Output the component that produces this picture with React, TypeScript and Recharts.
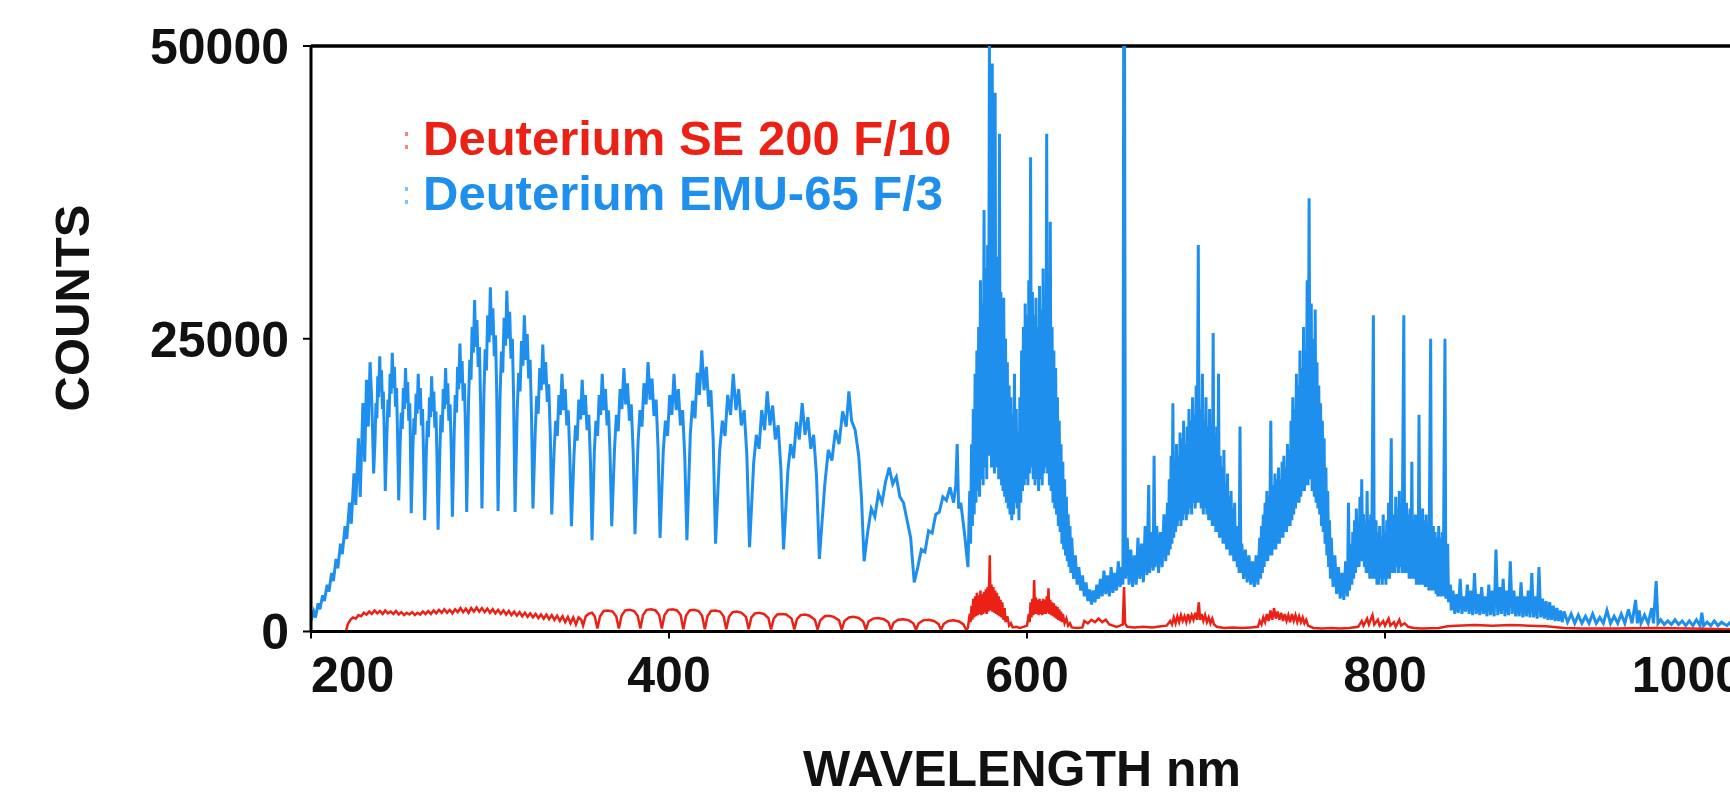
import React from 'react';
import { LineChart, Line, XAxis, YAxis, ReferenceLine, Legend } from 'recharts';

const FONT = '"Liberation Sans", Arial, Helvetica, sans-serif';

const xTicks = [200, 400, 600, 800, 1000];
const yTicks = [0, 25000, 50000];
const seriesNames = ['Deuterium SE 200 F/10', 'Deuterium EMU-65 F/3'];
const seriesColors = ['#EC2116', '#1E8FEC'];
const xTitle = 'WAVELENGTH nm';
const yTitle = 'COUNTS';

// [wavelength nm, counts] — Deuterium EMU-65 F/3 (blue)
const blueSpectrum: [number, number][] = [
  [200, 900], [201.5, 1700], [202.5, 1200], [204, 2400], [205, 1900], [206.5, 3100], [207.5, 2600], [209, 4000], [210, 3400],
  [211.5, 5000], [212.5, 4300], [214, 6200], [215, 5400], [216.5, 7500], [217.5, 6600], [219, 9000], [220, 7900],
  [221.5, 11000], [222.5, 9200], [224, 13500], [225, 10800], [226.5, 16500], [227.5, 11500], [229, 19500], [230, 14500],
  [231, 21500], [232, 17500], [233, 23000], [234, 19500], [235, 13500],
  [235.8, 16500], [236.3, 19500], [236.8, 18200], [237.3, 21800], [237.8, 20000], [238.4, 23500], [238.9, 20500], [239.4, 22300], [239.9, 19000], [240.4, 20500], [241, 16500], [241.5, 12000],
  [242.4, 16800], [243, 19800], [243.6, 18300], [244.2, 22000], [244.8, 20300], [245.4, 23800], [246, 20800], [246.6, 22600], [247.2, 19200], [247.8, 20800], [248.4, 16500], [249, 11200],
  [249.8, 16000], [250.4, 18700], [251, 17300], [251.6, 20800], [252.2, 19000], [252.8, 22500], [253.4, 19500], [254, 21300], [254.6, 18000], [255.2, 19500], [255.6, 15500], [256, 10100],
  [256.9, 15500], [257.5, 18200], [258.1, 16800], [258.7, 20300], [259.3, 18600], [259.9, 22000], [260.5, 19000], [261.1, 20800], [261.7, 17600], [262.3, 19000], [262.9, 15000], [263.5, 9500],
  [264.4, 15200], [265, 18000], [265.6, 16600], [266.2, 20000], [266.8, 18300], [267.4, 21800], [268, 18800], [268.6, 20500], [269.2, 17400], [269.8, 18800], [270.4, 14800], [271, 8700],
  [272, 15500], [272.6, 18500], [273.3, 17000], [273.9, 20700], [274.5, 19000], [275.2, 22500], [275.8, 19400], [276.4, 21200], [277, 18000], [277.7, 19400], [278.4, 15300], [279, 9800],
  [280, 17000], [280.6, 20200], [281.3, 18700], [281.9, 22600], [282.5, 20700], [283.2, 24600], [283.8, 21200], [284.4, 23100], [285, 19700], [285.7, 21200], [286.4, 16700], [287, 10200],
  [288, 19500], [288.7, 23200], [289.4, 21500], [290, 26000], [290.7, 23800], [291.4, 28300], [292, 24300], [292.7, 26600], [293.4, 22600], [294.1, 24300], [294.8, 19200], [295.5, 10500],
  [296.6, 20300], [297.3, 24100], [298, 22300], [298.7, 27000], [299.5, 24700], [300.2, 29400], [300.9, 25300], [301.6, 27600], [302.4, 23500], [303.1, 25300], [303.8, 20000], [304.5, 10300],
  [305.6, 20100], [306.4, 23900], [307.1, 22100], [307.9, 26800], [308.7, 24400], [309.4, 29100], [310.2, 25000], [311, 27300], [311.7, 23300], [312.5, 25000], [313.2, 19800], [314, 10200],
  [315.2, 18900], [316, 22100], [316.8, 20500], [317.6, 24800], [318.4, 22700], [319.2, 27000], [320, 23200], [320.8, 25400], [321.6, 21600], [322.4, 23200], [323.2, 18400], [324, 10500],
  [325.3, 17200], [326.1, 20100], [326.9, 18600], [327.8, 22500], [328.6, 20600], [329.5, 24500], [330.3, 21100], [331.1, 23000], [332, 19600], [332.8, 21100], [333.7, 16700], [334.5, 10000],
  [335.8, 15400], [336.7, 18000], [337.6, 16700], [338.5, 20200], [339.3, 18500], [340.2, 22000], [341.1, 18900], [342, 20700], [342.9, 17600], [343.7, 18900], [344.6, 15000], [345.5, 9000],
  [346.9, 15000], [347.8, 17600], [348.7, 16300], [349.6, 19800], [350.6, 18100], [351.5, 21500], [352.4, 18500], [353.3, 20200], [354.2, 17200], [355.2, 18500], [356.1, 14600], [357, 7800],
  [358.3, 15400], [359.2, 18000], [360.1, 16700], [361, 20200], [361.8, 18500], [362.7, 22000], [363.6, 18900], [364.5, 20700], [365.4, 17600], [366.2, 18900], [367.1, 15000], [368, 9000],
  [369.6, 15700], [370.6, 18500], [371.6, 17100], [372.7, 20700], [373.7, 19000], [374.8, 22500], [375.8, 19400], [376.8, 21200], [377.9, 18000], [378.9, 19400], [380, 15300], [381, 8300],
  [382.7, 16100], [383.8, 18900], [384.9, 17500], [386, 21200], [387.2, 19400], [388.3, 23000], [389.4, 19800], [390.5, 21600], [391.6, 18400], [392.8, 19800], [393.9, 15600], [395, 8000],
  [396.8, 15400], [398, 18000], [399.2, 16700], [400.4, 20200], [401.6, 18500], [402.8, 22000], [404, 18900], [405.2, 20700], [406.4, 17600], [407.6, 18900], [408.8, 15000], [410, 7800],
  [411.9, 16800], [413.2, 19700], [414.5, 18200], [415.8, 22100], [417, 20200], [418.3, 24000], [419.6, 20600], [420.9, 22600], [422.2, 19200], [423.4, 20600], [424.7, 16300], [426, 7500],
  [428.3, 15400], [429.8, 18000], [431.3, 16700], [432.8, 20200], [434.4, 18500], [435.9, 22000], [437.4, 18900], [438.9, 20700], [440.4, 17600], [442, 18900], [443.5, 15000], [445, 7200],
  [447.3, 14400], [448.8, 16800], [450.3, 15600], [451.8, 18900], [453.4, 17200], [454.9, 20500], [456.4, 17600], [457.9, 19300], [459.4, 16400], [461, 17600], [462.5, 13900], [464, 7000],
  [466.4, 13700], [468, 16000], [469.6, 14800], [471.2, 17900], [472.8, 16400], [474.4, 19500], [476, 16800], [477.6, 18300], [479.2, 15600], [480.8, 16800], [482.4, 13300], [484, 6200],
  [487, 12500], [489, 15500], [491, 14600], [493, 17200], [495, 16000], [497, 18800], [499, 17500], [500.5, 20500], [502, 18000], [504, 17200], [506, 15000], [507.5, 11500], [509, 6000],
  [511, 8500], [513, 10500], [515, 9800], [517, 11800], [519, 11000], [521, 12800], [523, 14000], [525, 12600], [527, 13200], [529, 11500], [531, 11000], [533, 9500], [535, 8000], [537, 4200],
  [539, 5500], [541, 7000], [543, 6800], [545, 8600], [547, 8400], [549, 10000], [551, 10200], [553, 11500], [555, 11200], [557, 12300], [559, 11000], [560.2, 12500], [561, 16000], [561.8, 10500], [563, 11000], [565, 8500], [567, 5500],
  [568, 12000], [568.5, 7500], [569, 16000], [569.5, 9000], [570, 19000], [570.5, 10000], [571, 22000], [571.5, 11000],
  [572, 24000], [572.5, 12000], [573, 26000], [573.5, 11500], [574, 30000], [574.5, 13000], [575, 28000], [575.5, 12500],
  [576, 36000], [576.5, 14000], [577, 31000], [577.5, 13000], [578, 33000], [578.5, 15000], [579, 50000], [579.4, 16000],
  [579.8, 35000], [580.2, 14000], [580.6, 48500], [581, 15500], [581.4, 34000], [581.8, 13500], [582.2, 46000], [582.6, 15000],
  [583, 32000], [583.4, 14000], [583.8, 30000], [584.2, 13000], [584.6, 42500], [585, 14500], [585.4, 29000], [585.8, 12500],
  [586.2, 27000], [586.6, 12000], [587, 28500], [587.5, 11500], [588, 25000], [588.5, 11000], [589, 23000], [589.5, 10500],
  [590, 21000], [590.5, 10000], [591, 20000], [591.5, 9500], [592, 18500], [592.5, 10000], [593, 22000], [593.5, 11000],
  [594, 19000], [594.5, 10500], [595, 17000], [595.5, 9500],
  [596, 20000], [596.5, 11000], [597, 24000], [597.5, 12000], [598, 26000], [598.5, 12500], [599, 28000], [599.5, 13000],
  [600, 27000], [600.5, 12500], [601, 30000], [601.5, 13500], [602, 40500], [602.5, 14000], [603, 29000], [603.5, 13000],
  [604, 27000], [604.5, 12500], [605, 28500], [605.5, 13000], [606, 26000], [606.5, 12000], [607, 29500], [607.5, 13000],
  [608, 27500], [608.5, 12500], [609, 31000], [609.5, 13500], [610, 28000], [610.5, 14000], [611, 42500], [611.5, 13500],
  [612, 30000], [612.5, 12500], [613, 35000], [613.5, 12000], [614, 26000], [614.5, 11000], [615, 24000], [615.5, 10500],
  [616, 22500], [616.5, 10000], [617, 20000], [617.5, 9000], [618, 18000], [618.5, 8500], [619, 16000], [619.5, 7500],
  [620, 14500], [620.5, 7000], [621, 13000], [621.5, 6500], [622, 11500], [622.5, 6000], [623, 10000], [623.5, 5500],
  [624, 9000], [624.5, 5000], [625, 8000], [626, 4500], [627, 6500], [628, 4000],
  [629, 5500], [630, 3500], [631, 4800], [632, 3000], [633, 4200], [634, 2600], [635, 3600], [636, 2300], [637, 3500],
  [638, 2500], [639, 4000], [640, 2800], [641, 4500], [642, 3000], [643, 5200], [644, 3200], [645, 4800], [646, 3000],
  [647, 5500], [648, 3300], [649, 5000], [650, 3500], [651, 6000], [652, 3800], [653, 5500], [653.6, 4000],
  [654, 50000], [654.5, 50000], [655, 4500],
  [656, 8000], [657, 4000], [658, 7000], [659, 3800], [660, 6500], [661, 4000], [662, 8000], [663, 4500], [664, 7500],
  [665, 4200], [666, 9000], [667, 4800], [668, 12500], [668.5, 5000], [669.5, 8500], [670.5, 5200], [671, 15000], [671.5, 5500],
  [672.5, 9000], [673.5, 5000], [674.5, 8500], [675.5, 5500], [676.5, 10000], [677.5, 6000], [678.5, 11000], [679, 6500],
  [679.5, 13000], [680, 7000], [680.5, 15000], [681, 7500], [681.5, 19500], [682, 8000], [682.5, 14000], [683, 8500],
  [683.5, 16000], [684, 9000], [684.5, 15000], [685, 9500], [685.5, 17000], [686, 9000], [686.5, 16500], [687, 9500],
  [687.5, 18000], [688, 10000], [688.5, 16000], [689, 9500], [689.5, 17500], [690, 10000], [690.5, 19000], [691, 10500],
  [691.5, 18000], [692, 10000], [692.5, 20000], [693, 11000], [693.5, 18500], [694, 10500], [694.5, 21000], [695, 11000],
  [695.7, 33000], [696.2, 11000], [696.8, 19000], [697.3, 10500], [698, 22000], [698.5, 10000], [699, 18000], [699.5, 10500],
  [700, 20000], [700.5, 10000], [701, 17500], [701.5, 9500], [702, 19000], [702.5, 9500], [703, 17000], [703.5, 9000],
  [704, 25500], [704.5, 9000], [705, 16000], [705.5, 8500], [706, 17500], [706.5, 8500], [707, 22000], [707.5, 8000],
  [708, 15000], [708.5, 8000], [709, 14000], [709.5, 7500], [710, 15500], [710.5, 7500], [711, 12500], [711.5, 7000],
  [712, 13500], [712.5, 7000], [713, 11500], [713.5, 6500], [714, 12000], [714.5, 6500], [715, 10500], [715.5, 6000],
  [716, 11000], [716.5, 6000], [717, 9000], [717.5, 5500], [718, 8000], [718.5, 5000], [719, 17500], [719.5, 5000],
  [720, 7500], [721, 4500], [722, 7000], [723, 4200], [724, 6500], [725, 4000], [726, 6000], [727, 3800], [728, 6500], [729, 4000],
  [730, 8000], [730.5, 4500], [731, 9000], [731.5, 5000], [732, 10000], [732.5, 5500], [733, 11000], [733.5, 6000],
  [734, 12000], [734.5, 6000], [735, 11500], [735.5, 6500], [736.2, 18000], [736.8, 6500], [737.5, 12500], [738, 7000],
  [738.5, 13500], [739, 7000], [739.5, 13000], [740, 7500], [740.5, 14000], [741, 7500], [741.5, 13000], [742, 8000],
  [742.5, 14500], [743, 8000], [743.5, 15000], [744, 8500], [744.5, 14000], [745, 8500], [745.5, 16000], [746, 9000],
  [746.5, 15500], [747, 9000],
  [747.5, 18000], [748, 9500], [748.5, 20000], [749, 10000], [749.5, 19000], [750, 10500], [750.5, 22000], [751, 11000],
  [751.5, 21000], [752, 11000], [752.5, 24000], [753, 11500], [753.5, 22500], [754, 12000], [754.5, 26000], [755, 12000],
  [755.5, 24000], [756, 12500], [756.5, 30000], [757, 12500], [757.6, 37000], [758.2, 13000], [758.8, 28000], [759.3, 12000],
  [760, 25000], [760.5, 11500], [761, 27500], [761.5, 11000], [762, 23000], [762.5, 10500], [763, 21000], [763.5, 10000],
  [764, 19500], [764.5, 9000], [765, 18000], [765.5, 8500], [766, 16500], [766.5, 7500], [767, 14000], [767.5, 6500],
  [768, 12000], [768.5, 5500], [769, 9500], [769.5, 4500], [770, 8000], [771, 3800], [772, 6500], [773, 3200],
  [774, 5500], [775, 2800],
  [776, 5000], [777, 2700], [778, 6000], [779, 3000], [779.6, 11000], [780.2, 3500], [781, 7500], [781.5, 4000],
  [782, 8500], [782.5, 4500], [783, 9500], [783.5, 5000], [784, 10500], [784.5, 5500], [785, 9000], [785.5, 5500],
  [786, 11500], [786.5, 6000], [787, 13000], [787.5, 6000], [788, 10000], [788.5, 5500], [789, 9000], [789.5, 5000],
  [790, 12000], [790.5, 5000], [791, 9500], [791.5, 4500], [792, 10000], [792.5, 4500], [793.5, 27000], [794, 4500],
  [795, 9500], [795.5, 4000], [796, 8500], [796.5, 4000], [797, 9000], [797.5, 4500], [798, 8000], [798.5, 4000],
  [799, 10000], [799.5, 4500], [800, 8500], [800.5, 4000], [801, 9500], [801.5, 4500], [802, 11000], [802.5, 4500],
  [803.5, 16500], [804, 5000], [805, 10000], [805.5, 5000], [806, 11500], [806.5, 5500], [807, 10500], [807.5, 5000],
  [808, 12000], [808.5, 5500], [809, 11000], [809.5, 5000], [810.5, 27000], [811, 5000], [812, 11000], [812.5, 5000],
  [813, 10000], [813.5, 4500], [814, 10500], [814.5, 4500], [815, 14500], [815.5, 4500], [816, 9500], [816.5, 4500],
  [817, 10000], [817.5, 4000], [818, 9500], [818.5, 4000], [819, 18500], [819.5, 4000], [820, 9000], [820.5, 4000],
  [821, 10500], [821.5, 4000], [822, 9500], [822.5, 3800], [823, 10000], [823.5, 3800], [824, 9000], [824.5, 3500],
  [825.5, 25000], [826, 3500], [827, 9000], [827.5, 3500], [828, 8500], [828.5, 3200], [829, 8000], [829.5, 3000],
  [830, 9000], [830.5, 3000], [831, 8000], [831.5, 3000], [832, 8500], [832.5, 3000], [833.5, 25000], [834, 2800],
  [835, 7500], [835.5, 2500],
  [836.5, 4000], [837, 1800], [838, 3500], [839, 1500], [840, 3200], [841, 1600], [842, 4500], [843, 1500], [844, 3000],
  [845, 1700], [846, 4000], [847, 1500], [848, 3500], [849, 1400], [850, 5000], [851, 1500], [852, 3200], [853, 1400],
  [854, 3800], [855, 1500], [856, 3000], [857, 1300], [858, 4000], [859, 1400], [860, 3500], [861, 1300], [862, 7000],
  [863, 1400], [864, 3800], [865, 1500], [866, 4500], [867, 1300], [868, 3500], [869, 1400], [870, 6000], [871, 1500],
  [872, 3500], [873, 1300], [874, 3000], [875, 1300], [876, 4200], [877, 1200], [878, 3000], [879, 1300], [880, 3500],
  [881, 1200], [882, 5000], [883, 1200], [884, 3000], [885, 1100], [886, 5500], [887, 1200], [888, 2800], [889, 1100],
  [890, 2600], [891, 1000], [892, 2500], [893, 1000], [894, 2200], [895, 900], [896, 2000], [897, 900], [898, 1800], [899, 800],
  [900, 1700], [902, 800], [904, 1500], [906, 700], [908, 1400], [910, 700], [912, 1300], [914, 700], [916, 1500],
  [918, 700], [920, 1200], [922, 700], [924, 1800], [926, 700], [928, 1300], [930, 700], [932, 1500], [934, 700],
  [936, 1900], [938, 700], [940, 2700], [941, 700], [942, 1800], [943, 700], [945, 1400], [947, 700], [949, 2000],
  [950, 700], [951.5, 4300], [952.5, 700], [954, 1000], [956, 600], [958, 900], [960, 600], [962, 1000], [964, 600],
  [966, 900], [968, 500], [970, 900], [972, 500], [974, 1000], [976, 500], [977, 1600], [978, 500], [980, 800], [982, 500],
  [984, 900], [986, 500], [988, 800], [991, 500], [993, 800], [995, 500], [997, 700], [1000, 500],
];

// [wavelength nm, counts] — Deuterium SE 200 F/10 (red)
const redSpectrum: [number, number][] = [
  [219.5, 0], [220.5, 600], [222, 1000], [223.5, 1200], [225, 1100], [226.5, 1400], [228, 1300], [229.5, 1600],
  [231, 1450], [232.5, 1700], [234, 1500], [235.5, 1800], [237, 1550], [238.5, 1750], [240, 1500], [241.5, 1800],
  [243, 1550], [244.5, 1700], [246, 1500], [247.5, 1750], [249, 1450], [250.5, 1650], [252, 1400], [253.5, 1600],
  [255, 1450], [256.5, 1650], [258, 1400], [259.5, 1600], [261, 1450], [262.5, 1700], [264, 1500], [265.5, 1750],
  [267, 1500], [268.5, 1800], [270, 1550], [271.5, 1850], [273, 1600], [274.5, 1900], [276, 1600], [277.5, 1850],
  [279, 1550], [280.5, 1900], [282, 1650], [283.5, 2000], [285, 1650], [286.5, 1950], [288, 1600], [289.5, 2000],
  [291, 1700], [292.5, 2050], [294, 1700], [295.5, 2000], [297, 1650], [298.5, 1950], [300, 1600], [301.5, 1900],
  [303, 1550], [304.5, 1850], [306, 1500], [307.5, 1800], [309, 1450], [310.5, 1750], [312, 1400], [313.5, 1700],
  [315, 1350], [316.5, 1650], [318, 1300], [319.5, 1600], [321, 1250], [322.5, 1550], [324, 1200], [325.5, 1500],
  [327, 1150], [328.5, 1450], [330, 1100], [331.5, 1450], [333, 1050], [334.5, 1400], [336, 1000], [337.5, 1350],
  [339, 900], [340.5, 1300], [342, 800], [343.5, 1250], [345, 700], [346.5, 1200], [348, 600], [349.5, 1200],
  [351, 1000], [352, 500], [353.5, 1300], [355, 1500], [357, 1600], [358.5, 1300],
  [360, 250], [361.5, 1300], [363.5, 1750], [366, 1800], [368.5, 1700], [370.5, 1300], [372, 250],
  [373.5, 1350], [375.5, 1800], [378, 1850], [380.5, 1750], [382.5, 1350], [384, 250],
  [385.5, 1400], [387.5, 1850], [390, 1900], [392.5, 1800], [394.5, 1400], [396, 250],
  [397.5, 1400], [399.5, 1850], [402, 1900], [404.5, 1800], [406.5, 1400], [408, 200],
  [409.5, 1350], [411.5, 1800], [414, 1850], [416.5, 1750], [418.5, 1350], [420, 200],
  [421.5, 1300], [423.5, 1750], [426, 1800], [428.5, 1700], [430.5, 1300], [432, 200],
  [433.5, 1250], [435.5, 1650], [438, 1700], [440.5, 1600], [443, 1250], [444.5, 200],
  [446, 1200], [448, 1550], [450.5, 1600], [453, 1500], [455.5, 1150], [457, 180],
  [458.5, 1100], [460.5, 1450], [463, 1500], [465.5, 1450], [468.5, 1100], [470, 180],
  [471.5, 1050], [473.5, 1400], [476, 1450], [478.5, 1350], [481.5, 1000], [483, 170],
  [484.5, 950], [487, 1300], [489.5, 1350], [492, 1250], [495, 950], [496.5, 160],
  [498, 900], [500.5, 1200], [503, 1250], [506, 1150], [508.5, 850], [510, 150],
  [511.5, 850], [514, 1100], [517, 1150], [520, 1050], [522.5, 800], [524, 150],
  [525.5, 750], [528, 1000], [531, 1050], [534, 950], [536.5, 700], [538, 150],
  [539.5, 700], [542, 950], [545, 1000], [548, 900], [550.5, 650], [552, 150],
  [553.5, 650], [556, 900], [559, 950], [562, 850], [564.5, 600], [566, 150],
  [567, 300], [568, 1500], [568.5, 800], [569, 2200], [569.5, 1000], [570, 2800], [570.5, 1200], [571, 3000],
  [571.5, 1300], [572, 3300], [572.5, 1400], [573, 3100], [573.5, 1500], [574, 3500], [574.5, 1400], [575, 3200],
  [575.5, 1500], [576, 3400], [576.5, 1600], [577, 3600], [577.5, 1500], [578, 3800], [578.5, 1700], [579.2, 6500],
  [579.7, 1800], [580.2, 4000], [580.7, 1700], [581.2, 3800], [581.7, 1600], [582.2, 3500], [582.7, 1500], [583.2, 3300],
  [583.7, 1400], [584.2, 3000], [584.7, 1300], [585.2, 2700], [585.7, 1200], [586.2, 2500], [586.7, 1000], [587.5, 2000],
  [588, 800], [589, 1300], [590, 500], [591, 700], [592, 350], [594, 400], [596, 300], [598, 400], [600, 500],
  [601, 1500], [601.5, 800], [602, 2500], [602.5, 1200], [603, 2800], [603.5, 1400], [604, 4400], [604.5, 1500],
  [605, 2900], [605.5, 1500], [606, 2700], [606.5, 1400], [607, 2800], [607.5, 1500], [608, 2600], [608.5, 1400],
  [609, 2800], [609.5, 1500], [610, 2700], [610.5, 1500], [611, 3000], [611.5, 1600], [612, 3700], [612.5, 1500],
  [613, 2700], [613.5, 1400], [614, 2500], [614.5, 1300], [615, 2400], [615.5, 1200], [616, 2200], [616.5, 1100],
  [617, 2100], [617.5, 1000], [618, 1900], [618.5, 900], [619, 1700], [619.5, 800], [620, 1500], [621, 700],
  [622, 1100], [623, 500], [624, 700], [625, 350], [628, 300], [631, 350], [632, 900], [634, 700], [636, 1000],
  [638, 800], [640, 1100], [642, 800], [644, 1000], [646, 600], [648, 500], [650, 400], [652, 500], [653.5, 600],
  [654.2, 3800], [654.8, 700], [656, 400], [660, 350], [665, 400], [670, 350], [675, 450], [678, 500],
  [680, 900], [681, 600], [682, 1200], [683, 700], [684, 1300], [685, 800], [686, 1400], [687, 900], [688, 1300],
  [689, 800], [690, 1500], [691, 900], [692, 1400], [693, 1000], [694, 1600], [695, 1000], [696, 2500], [696.7, 1000],
  [697.5, 1500], [698.5, 900], [699.5, 1400], [700.5, 800], [701.5, 1200], [702.5, 700], [703.5, 1100], [704.5, 600],
  [706, 400], [710, 300], [715, 350], [720, 300], [725, 350], [729, 400],
  [730, 900], [731, 600], [732, 1200], [733, 800], [734, 1500], [735, 900], [736, 1800], [737, 1000], [738, 2000],
  [739, 1100], [740, 1700], [741, 1000], [742, 1600], [743, 900], [744, 1500], [745, 900], [746, 1400], [747, 800],
  [748, 1500], [749, 900], [750, 1400], [751, 800], [752, 1300], [753, 800], [754, 1200], [755, 700], [756, 1000],
  [757, 500], [760, 300], [765, 250], [770, 300], [775, 250], [780, 300], [785, 400],
  [787, 900], [788, 500], [790, 1100], [791, 600], [793, 1400], [794, 600], [796, 1000], [797, 500], [799, 900],
  [800, 500], [802, 1100], [803, 500], [805, 800], [806, 400], [808, 1000], [809, 500], [811, 700], [813, 400],
  [816, 300], [820, 250], [830, 300], [835, 450], [840, 500], [850, 550], [860, 500], [870, 550], [880, 500],
  [890, 450], [900, 300], [910, 250], [930, 250], [950, 300], [970, 250], [990, 200], [1000, 200],
];

const toRows = (pts: [number, number][]) => pts.map(([wl, counts]) => ({ wl, counts }));
const blueRows = toRows(blueSpectrum);
const redRows = toRows(redSpectrum);

const textStyle = { fontFamily: FONT, fontWeight: 700 as const, fill: '#111' };

function XTick(props: any) {
  const { x, y, payload } = props;
  const v = payload.value;
  const anchor = v === xTicks[0] ? 'start' : v === xTicks[xTicks.length - 1] ? 'end' : 'middle';
  return (
    <text x={x} y={y} dy={35} textAnchor={anchor} fontSize={50} {...textStyle}>
      {v}
    </text>
  );
}

const YTitle = () => (
  <text
    x={72}
    y={308}
    transform="rotate(-90, 72, 308)"
    textAnchor="middle"
    dominantBaseline="central"
    fontSize={49}
    {...textStyle}
  >
    {yTitle}
  </text>
);

const XTitle = () => (
  <text x={1022} y={786} textAnchor="middle" fontSize={50} {...textStyle}>
    {xTitle}
  </text>
);

const LegendBox = () => (
  <div style={{ fontFamily: FONT, fontSize: 49, fontWeight: 700, lineHeight: '55px', whiteSpace: 'nowrap' }}>
    {seriesNames.map((n, i) => (
      <div key={n} style={{ color: seriesColors[i], position: 'relative' }}>
        <span style={{ position: 'absolute', left: -18, top: 21, width: 3, height: 4, background: seriesColors[i], opacity: 0.55 }} />
        <span style={{ position: 'absolute', left: -18, top: 34, width: 3, height: 4, background: seriesColors[i], opacity: 0.55 }} />
        {n}
      </div>
    ))}
  </div>
);

export default function App() {
  return (
    <div style={{ position: 'absolute', left: 0, top: 0, width: 1730, height: 797, overflow: 'hidden', background: '#fff' }}>
      <LineChart width={1770} height={797} margin={{ top: 46, right: 27, bottom: 0, left: 0 }}>
        <XAxis
          type="number"
          dataKey="wl"
          domain={[200, 1000]}
          ticks={xTicks}
          interval={0}
          allowDataOverflow
          height={165.5}
          tickSize={7}
          tickMargin={18}
          axisLine={{ stroke: '#000', strokeWidth: 3 }}
          tickLine={{ stroke: '#000', strokeWidth: 2 }}
          tick={<XTick />}
          label={() => <XTitle />}
        />
        <YAxis
          type="number"
          domain={[0, 50000]}
          ticks={yTicks}
          interval={0}
          allowDataOverflow
          width={311}
          tickSize={8}
          tickMargin={14}
          axisLine={{ stroke: '#000', strokeWidth: 3 }}
          tickLine={{ stroke: '#000', strokeWidth: 2 }}
          tick={{ fontSize: 50, ...textStyle }}
          label={() => <YTitle />}
        />
        <ReferenceLine y={50000} stroke="#000" strokeWidth={3.5} />
        <Line
          data={blueRows}
          dataKey="counts"
          name={seriesNames[1]}
          type="linear"
          stroke={seriesColors[1]}
          strokeWidth={3}
          dot={false}
          activeDot={false}
          isAnimationActive={false}
        />
        <Line
          data={redRows}
          dataKey="counts"
          name={seriesNames[0]}
          type="linear"
          stroke={seriesColors[0]}
          strokeWidth={2.5}
          dot={false}
          activeDot={false}
          isAnimationActive={false}
        />
        <Legend
          layout="vertical"
          align="center"
          verticalAlign="middle"
          content={() => <LegendBox />}
          wrapperStyle={{ top: 111, left: 423, width: 'auto', height: 'auto' }}
        />
      </LineChart>
    </div>
  );
}
